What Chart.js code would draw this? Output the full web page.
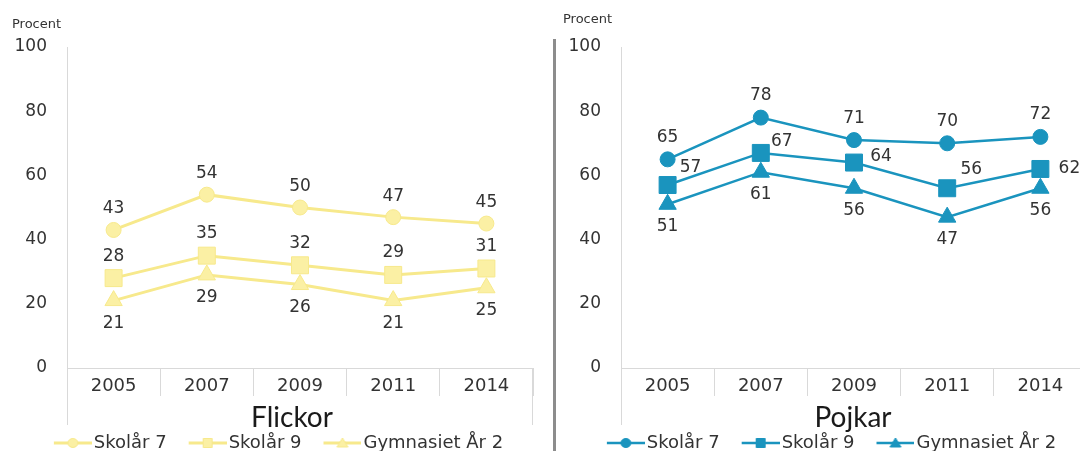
<!DOCTYPE html>
<html><head><meta charset="utf-8">
<script src="https://cdn.jsdelivr.net/npm/chart.js@4.4.0/dist/chart.umd.min.js"></script>
<style>
html,body{margin:0;padding:0;background:#fff;width:1080px;height:451px;overflow:hidden;position:relative}
#wl{position:absolute;left:0;top:0;width:553px;height:451px}
#wr{position:absolute;left:557px;top:0;width:543px;height:451px}
#sep{position:absolute;left:553px;top:39px;width:3px;height:412px;background:#8c8c8c}
</style></head><body>
<div id="wl"><canvas id="cl"></canvas></div>
<div id="sep"></div>
<div id="wr"><canvas id="cr"></canvas></div>
<script>
// ---- data ----
const years = ['2005', '2007', '2009', '2011', '2014'];
const seriesNames = ['Skolår 7', 'Skolår 9', 'Gymnasiet År 2'];
const flickorSkolar7 = [43, 54, 50, 47, 45];
const flickorSkolar9 = [28, 35, 32, 29, 31];
const flickorGymnasiet = [21, 29, 26, 21, 25];
const pojkarSkolar7 = [65, 78, 71, 70, 72];
const pojkarSkolar9 = [57, 67, 64, 56, 62];
const pojkarGymnasiet = [51, 61, 56, 47, 56];
const yTicks = [0, 20, 40, 60, 80, 100];
const yAxisLabel = 'Procent';
const panelTitles = ['Flickor', 'Pojkar'];

// ---- styles ----
const FONT = "'DejaVu Sans', sans-serif";
const TXT = '#333333';
const AXIS = '#d9d9d9';
const shapes = ['circle', 'rect', 'triangle'];
const radii = [7.5, 12, 10];
const LEG_BOX = 43;          // legend box width
const LEG_W = LEG_BOX + 14;  // icon image width

function legendIcon(shape, fill, stroke, lw) {
  const c = document.createElement('canvas');
  c.width = LEG_W; c.height = 18;
  const g = c.getContext('2d');
  const x0 = LEG_W - 38;
  g.strokeStyle = stroke; g.lineWidth = lw;
  g.beginPath(); g.moveTo(x0, 9); g.lineTo(LEG_W, 9); g.stroke();
  g.fillStyle = fill; g.strokeStyle = stroke; g.lineWidth = 1;
  const cx = x0 + 19, cy = 9;
  g.beginPath();
  if (shape === 'circle') { g.ellipse(cx, cy, 5, 4.5, 0, 0, Math.PI * 2); }
  else if (shape === 'rect') { g.rect(cx - 4.5, cy - 4.5, 9, 9); }
  else { g.moveTo(cx, cy - 5); g.lineTo(cx + 5.5, cy + 4); g.lineTo(cx - 5.5, cy + 4); g.closePath(); }
  g.fill(); g.stroke();
  return c;
}

const valueLabels = {
  id: 'valueLabels',
  afterDatasetsDraw(chart, args, o) {
    const ctx = chart.ctx;
    ctx.save();
    ctx.font = '17px ' + FONT;
    ctx.fillStyle = TXT;
    ctx.textAlign = 'center';
    ctx.textBaseline = 'middle';
    chart.data.datasets.forEach((ds, i) => {
      const meta = chart.getDatasetMeta(i);
      const off = o.offsets[i];
      meta.data.forEach((pt, j) => {
        const d = Array.isArray(off[0]) ? off[j] : off;
        ctx.fillText(String(ds.data[j]), pt.x + d[0], pt.y + d[1]);
      });
    });
    ctx.restore();
  }
};

const frameExt = {
  id: 'frameExt',
  afterDraw(chart, args, o) {
    const ctx = chart.ctx;
    const a = chart.chartArea;
    ctx.save();
    ctx.strokeStyle = AXIS; ctx.lineWidth = 1;
    ctx.beginPath();
    ctx.moveTo(Math.round(a.left) + 0.5, a.bottom); ctx.lineTo(Math.round(a.left) + 0.5, o.to);
    ctx.moveTo(Math.round(a.right) - 0.5, a.bottom); ctx.lineTo(Math.round(a.right) - 0.5, o.to);
    ctx.stroke();
    ctx.restore();
  }
};

const bottomTitle = {
  id: 'bottomTitle',
  afterDraw(chart, args, o) {
    const ctx = chart.ctx;
    ctx.save();
    ctx.font = "28px Lato, 'Open Sans', sans-serif";
    ctx.fillStyle = '#1a1a1a';
    ctx.textAlign = 'center';
    ctx.textBaseline = 'alphabetic';
    ctx.fillText(o.text, o.x, o.y);
    ctx.restore();
  }
};

function makeChart(id, values, fill, stroke, lineW, opts) {
  const icons = shapes.map(s => legendIcon(s, fill, stroke, lineW));
  const datasets = values.map((v, i) => ({
    label: seriesNames[i],
    data: v,
    borderColor: stroke,
    backgroundColor: fill,
    borderWidth: lineW,
    pointStyle: shapes[i],
    pointRadius: radii[i],
    pointHoverRadius: radii[i],
    pointBackgroundColor: fill,
    pointBorderColor: stroke,
    pointBorderWidth: 1,
    tension: 0
  }));
  return new Chart(document.getElementById(id), {
    type: 'line',
    data: { labels: years, datasets },
    options: {
      responsive: true,
      maintainAspectRatio: false,
      animation: false,
      events: [],
      layout: { padding: { left: opts.padLeft, right: opts.padRight, top: 0, bottom: -11 } },
      scales: {
        x: {
          type: 'category',
          offset: true,
          grid: { offset: true, drawOnChartArea: false, drawTicks: true, tickLength: 28, color: AXIS, lineWidth: 1 },
          border: { color: AXIS, width: 1 },
          ticks: { color: TXT, font: { family: FONT, size: 18 }, padding: -20, maxRotation: 0, autoSkip: false },
          afterFit: s => { s.height = 56; }
        },
        y: {
          min: 0, max: 100,
          afterBuildTicks: s => { s.ticks = yTicks.map(v => ({ value: v })); },
          grid: { drawOnChartArea: false, drawTicks: false, color: AXIS },
          border: { color: AXIS, width: 1 },
          ticks: { color: TXT, font: { family: FONT, size: 17 }, padding: 20 },
          afterFit: s => { s.width = opts.yWidth; }
        }
      },
      plugins: {
        title: {
          display: true, text: yAxisLabel, align: 'start', position: 'top',
          color: TXT, font: { family: FONT, size: 13, weight: 'normal' },
          padding: { top: opts.procTop, bottom: 47 - opts.procTop - 15.6 }
        },
        legend: {
          display: true, position: 'bottom',
          labels: {
            usePointStyle: true, pointStyleWidth: LEG_BOX, padding: 10,
            color: TXT, font: { family: FONT, size: 18 },
            generateLabels: (chart) => chart.data.datasets.map((ds, i) => ({
              text: ds.label, pointStyle: icons[i], fillStyle: fill, strokeStyle: stroke,
              lineWidth: 0, hidden: false, datasetIndex: i, fontColor: TXT
            }))
          }
        },
        tooltip: { enabled: false },
        valueLabels: { offsets: opts.offsets },
        frameExt: { to: 425 },
        bottomTitle: { text: opts.title, x: opts.titleX, y: 427 }
      }
    },
    plugins: [valueLabels, frameExt, bottomTitle]
  });
}

makeChart('cl', [flickorSkolar7, flickorSkolar9, flickorGymnasiet], '#FBF0A4', '#F7E98C', 3, {
  padLeft: 12, padRight: 20, yWidth: 55, procTop: 17, title: panelTitles[0], titleX: 292,
  offsets: [[0, -21], [0, -22], [0, 23]]
});
makeChart('cr', [pojkarSkolar7, pojkarSkolar9, pojkarGymnasiet], '#1A94BE', '#1A94BE', 2.5, {
  padLeft: 6, padRight: 12, yWidth: 58, procTop: 12, title: panelTitles[1], titleX: 853 - 557,
  offsets: [[0, -22], [[23, -17], [21, -11], [27, -6], [24, -19], [29, 0]], [0, 22]]
});
</script>
</body></html>
